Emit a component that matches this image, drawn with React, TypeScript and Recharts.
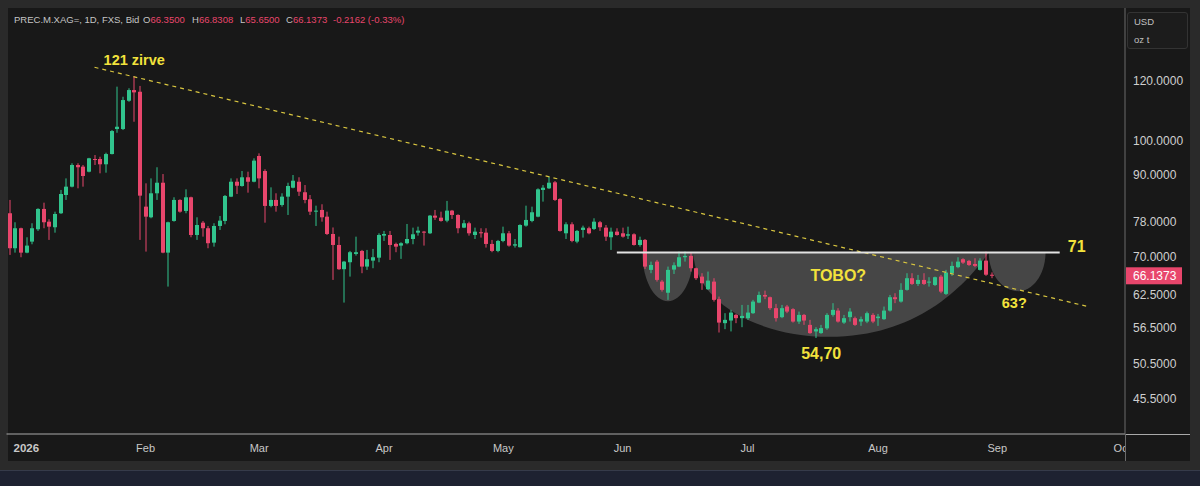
import {
  Bar,
  ComposedChart,
  ReferenceArea,
  ReferenceDot,
  ReferenceLine,
  XAxis,
  YAxis,
} from "recharts";

// Daily silver candles, Dec 29 2025 .. Aug 31 2026 (one slot per trading day).
const opens = [
  80.05, 71.94, 76.47, 70.98, 73.41, 76.23, 81.11, 78.02, 76.7, 80.05,
  84.64, 86.82, 92.76, 92.29, 90.88, 94.47, 94.47, 92.96, 95.91, 103.52,
  103.52, 112.86, 116.6, 116.0, 81.68, 79.07, 85.08, 87.87, 70.98, 78.19,
  83.37, 80.61, 84.05, 74.91, 77.78, 76.47, 73.18, 77.0, 78.19, 84.21,
  88.14, 87.0, 89.34, 88.14, 95.34, 91.07, 81.86, 83.37, 82.1, 84.21,
  86.54, 88.14, 85.35, 83.54, 80.44, 80.86, 79.22, 75.14, 72.66, 67.48,
  68.93, 70.7, 71.35, 68.02, 69.27, 69.9, 74.76, 74.91, 72.89, 72.52,
  73.05, 74.0, 75.44, 75.68, 75.3, 79.47, 78.98, 78.26, 80.69, 79.63,
  76.61, 77.64, 74.91, 75.54, 75.44, 72.89, 71.35, 73.56, 75.3, 72.52,
  72.17, 77.08, 78.19, 79.22, 85.95, 86.38, 87.98, 83.62, 75.3, 77.4,
  73.41, 76.07, 76.47, 76.3, 77.88, 76.61, 74.39, 75.68, 75.3, 74.76,
  75.07, 72.66, 73.79, 67.34, 69.06, 64.97, 62.8, 67.4, 68.02, 69.99,
  70.27, 67.68, 65.97, 63.48, 64.97, 61.58, 57.23, 57.69, 58.69, 58.11,
  58.11, 59.0, 60.94, 62.38, 61.95, 59.91, 58.29, 60.21, 59.73, 57.51,
  58.69, 56.93, 55.8, 55.52, 56.33, 58.69, 59.47, 57.33, 58.29, 58.11,
  57.51, 57.51, 58.69, 58.11, 57.93, 59.47, 61.95, 61.13, 63.35, 65.65,
  64.51, 65.31, 64.77, 64.31, 65.97, 62.58, 66.66, 67.9, 69.57, 69.21,
  68.57, 67.34, 69.27, 66.35,
];
const highs = [
  83.37, 77.88, 76.6, 74.39, 77.64, 81.28, 82.68, 78.6, 80.44, 85.95,
  89.04, 93.25, 93.25, 92.76, 94.8, 95.62, 95.13, 96.3, 103.2, 117.82,
  114.24, 117.25, 121.6, 118.08, 87.71, 89.04, 92.12, 90.23, 78.02, 84.05,
  83.54, 86.12, 84.21, 79.07, 78.19, 77.0, 77.64, 79.39, 84.64, 89.04,
  89.04, 91.07, 90.88, 94.67, 96.12, 91.56, 86.64, 85.08, 85.08, 87.87,
  89.96, 89.34, 87.25, 84.64, 81.93, 82.28, 80.44, 76.65, 74.53, 69.2,
  71.35, 74.53, 71.57, 71.57, 71.79, 75.3, 75.84, 75.84, 73.18, 73.27,
  77.47, 76.61, 76.84, 75.84, 79.63, 80.86, 80.44, 83.12, 80.86, 79.8,
  78.43, 78.02, 76.61, 76.47, 76.47, 73.79, 73.79, 76.84, 75.84, 74.0,
  77.4, 81.93, 81.68, 86.38, 87.25, 89.49, 88.33, 83.8, 77.88, 77.88,
  76.07, 77.08, 76.84, 78.83, 78.19, 77.23, 76.61, 76.47, 76.61, 76.84,
  75.3, 74.53, 74.0, 69.06, 69.42, 65.31, 68.02, 68.9, 71.2, 71.2,
  70.98, 67.8, 66.66, 66.99, 65.65, 62.07, 59.0, 59.6, 58.87, 60.51,
  60.51, 61.45, 63.02, 63.21, 62.07, 60.7, 60.51, 60.51, 59.91, 59.29,
  58.87, 57.81, 56.53, 56.93, 59.0, 60.83, 59.91, 58.69, 59.91, 58.39,
  58.39, 59.29, 59.0, 58.87, 60.21, 62.38, 62.71, 64.65, 66.66, 66.66,
  66.31, 66.66, 65.85, 65.97, 66.31, 67.34, 69.06, 69.99, 69.78, 69.42,
  69.78, 69.78, 71.2, 66.8308,
];
const lows = [
  70.49, 70.98, 69.99, 70.85, 72.82, 75.84, 76.47, 73.79, 75.44, 79.87,
  83.37, 86.64, 86.38, 86.82, 90.7, 92.76, 90.43, 90.6, 95.8, 102.35,
  103.2, 112.51, 105.85, 73.79, 71.2, 78.83, 83.37, 70.85, 63.99, 78.02,
  80.19, 80.05, 74.39, 73.79, 74.53, 71.94, 72.29, 76.07, 77.4, 84.1,
  84.9, 86.82, 85.24, 87.98, 86.38, 77.78, 81.53, 80.44, 81.68, 79.63,
  86.38, 84.39, 82.53, 79.63, 77.0, 78.02, 74.91, 65.31, 67.34, 60.94,
  65.97, 70.34, 66.66, 67.34, 67.68, 68.93, 73.56, 69.42, 71.07, 69.64,
  72.82, 72.82, 74.76, 72.52, 75.14, 78.43, 78.02, 77.88, 78.67, 75.3,
  76.5, 74.76, 74.0, 74.31, 72.08, 71.07, 71.07, 73.27, 72.29, 72.08,
  72.08, 76.84, 77.88, 79.07, 82.94, 86.2, 83.12, 75.68, 74.0, 73.27,
  73.05, 74.31, 75.07, 76.07, 75.84, 73.56, 71.57, 74.76, 74.31, 74.0,
  72.52, 72.29, 67.54, 66.66, 64.97, 63.02, 61.45, 66.5, 67.9, 69.06,
  66.99, 65.31, 63.35, 63.35, 61.13, 55.62, 56.19, 55.8, 57.23, 56.53,
  57.81, 58.87, 60.83, 61.58, 59.6, 57.51, 58.11, 59.0, 57.33, 57.1,
  56.93, 55.4, 54.7, 55.4, 56.08, 58.39, 57.33, 57.1, 57.51, 56.76,
  56.76, 57.23, 57.23, 56.76, 57.81, 59.29, 60.83, 60.94, 63.21, 64.31,
  64.11, 64.31, 63.99, 64.11, 62.71, 62.38, 66.12, 67.68, 68.57, 68.16,
  67.9, 67.2, 66.12, 65.65,
];
const closes = [
  71.94, 76.47, 70.98, 72.52, 76.47, 81.11, 77.88, 76.84, 79.87, 84.9,
  86.82, 92.76, 92.12, 89.69, 94.67, 94.2, 92.96, 95.91, 102.89, 104.25,
  113.1, 116.6, 115.78, 84.47, 79.22, 85.08, 87.87, 70.98, 77.88, 83.37,
  80.44, 84.05, 74.91, 77.23, 76.47, 73.05, 77.0, 78.26, 84.39, 88.14,
  87.07, 89.34, 88.14, 94.0, 89.04, 81.86, 83.37, 81.86, 84.21, 87.0,
  88.41, 85.5, 83.37, 80.44, 80.69, 79.07, 75.14, 72.66, 67.48, 69.06,
  71.07, 71.07, 68.02, 69.57, 69.99, 74.91, 75.14, 72.66, 72.29, 73.05,
  74.0, 75.07, 75.91, 75.44, 79.47, 78.98, 78.19, 80.69, 79.63, 76.47,
  77.64, 75.3, 75.68, 75.3, 72.89, 71.35, 73.56, 75.3, 72.52, 72.82,
  77.23, 78.43, 80.29, 86.12, 86.54, 87.87, 83.37, 75.84, 77.4, 73.56,
  75.84, 76.61, 75.3, 78.02, 76.7, 74.53, 75.68, 74.91, 74.53, 75.07,
  72.66, 73.79, 68.02, 68.36, 65.31, 63.35, 67.34, 68.3, 69.99, 70.27,
  67.68, 65.65, 64.65, 65.17, 61.45, 57.33, 57.81, 59.11, 58.11, 58.51,
  59.11, 61.13, 62.38, 62.07, 59.91, 58.11, 59.91, 59.29, 57.51, 58.69,
  57.69, 55.52, 56.19, 56.37, 58.69, 59.6, 57.51, 58.11, 59.29, 56.93,
  57.93, 59.0, 57.51, 58.39, 59.47, 61.95, 61.58, 63.35, 65.65, 64.51,
  65.31, 64.51, 64.97, 65.85, 63.02, 66.79, 68.16, 69.06, 68.85, 68.36,
  68.16, 69.27, 66.3535, 66.1373,
];

// trading-day slots on the time axis (data + empty space up to early October)
const SLOT_COUNT = 197;
const monthTicks = [3, 24, 44, 66, 87, 108, 130, 153, 174, 196];
const monthLabels = ["2026", "Feb", "Mar", "Apr", "May", "Jun", "Jul", "Aug", "Sep", "Oct"];
const priceTicks = [45.5, 50.5, 56.5, 62.5, 70, 78, 90, 100, 120];
const priceDomain = [40.8, 149.8];

// drawings: trend line, neckline, the three arcs and the notes
const trendLine = [
  { x: 15, y: 125.0 },
  { x: 190, y: 60.2 },
];
const neckline = [
  { x: 107, y: 71 },
  { x: 185, y: 71 },
];
const cups = [
  { x1: 112, x2: 120, bottom: 61.2, mid: 0.5, soft: 0 },
  { x1: 121, x2: 172, bottom: 54.9, mid: 0.46, soft: 0.15 },
  { x1: 173, x2: 182, bottom: 63.1, mid: 0.52, soft: 0 },
];
const notes = [
  { x: 22, y: 127.8, text: "121 zirve", size: 14.5 },
  { x: 146, y: 66.3, text: "TOBO?", size: 16 },
  { x: 143, y: 52.25, text: "54,70", size: 16 },
  { x: 188, y: 72.4, text: "71", size: 16 },
  { x: 177, y: 60.86, text: "63?", size: 14.5 },
];

const UP = "#31c48d";
const DOWN = "#e8466c";
const YELLOW = "#f2e23c";
const FONT = "'Liberation Sans', Arial, sans-serif";

const rows = Array.from({ length: SLOT_COUNT }, (_, i) =>
  i < closes.length
    ? { i, o: opens[i], h: highs[i], l: lows[i], c: closes[i] }
    : { i }
);

const last = closes.length - 1;
const change = closes[last] - closes[last - 1];
const changePct = (change / closes[last - 1]) * 100;

function Candle(props: any) {
  const { x, y, width, height, payload } = props;
  if (payload?.h == null || !Number.isFinite(y) || !Number.isFinite(height)) return null;
  const { o, h, l, c } = payload;
  const color = c >= o ? UP : DOWN;
  const span = Math.log(h) - Math.log(l) || 1;
  const at = (v: number) => y + (height * (Math.log(h) - Math.log(v))) / span;
  const left = Math.round(x + width / 2 - 2);
  const top = at(Math.max(o, c));
  const bottom = at(Math.min(o, c));
  return (
    <g>
      <line x1={left + 2} x2={left + 2} y1={y} y2={y + height} stroke={color} strokeWidth={1} />
      <rect x={left} y={top} width={4} height={Math.max(1, bottom - top)} fill={color} />
    </g>
  );
}

const cupShape = (mid: number, soft: number) => (p: any) => {
  const { x, y, width, height } = p;
  if (![x, y, width, height].every(Number.isFinite)) return <g />;
  const k = 0.55;
  const xb = x + width * mid;
  const x2 = x + width;
  const yb = y + height;
  const wl = xb - x;
  const wr = x2 - xb;
  const d =
    `M${x},${y} C${x},${y + k * height} ${xb - k * wl},${yb} ${xb},${yb} ` +
    `C${xb + k * wr},${yb} ${x2 - soft * wr},${y + (k - soft) * height} ${x2},${y} Z`;
  return <path d={d} fill="rgba(255,255,255,0.2)" />;
};

function MonthTick(props: any) {
  const { x, y, payload } = props;
  const idx = monthTicks.indexOf(payload.value);
  const label = monthLabels[idx] ?? "";
  const clipId = `xclip-${payload.value}`;
  return (
    <g>
      <clipPath id={clipId}>
        <rect x={0} y={0} width={1125} height={486} />
      </clipPath>
      <text
        x={x}
        y={y}
        dy="0.71em"
        textAnchor="middle"
        fill="#c8c8c8"
        fontSize={label === "2026" ? 11.5 : 11}
        fontWeight={label === "2026" ? 700 : 400}
        fontFamily={FONT}
        clipPath={`url(#${clipId})`}
      >
        {label}
      </text>
    </g>
  );
}

function PriceTag(props: any) {
  const vb = props.viewBox;
  if (!vb) return null;
  const x = vb.x + vb.width + 1;
  return (
    <g>
      <rect x={x} y={vb.y - 8.5} width={56} height={17} fill={DOWN} />
      <text x={x + 7} y={vb.y} dominantBaseline="central" fill="#ffffff" fontSize={12} fontFamily={FONT}>
        {closes[last].toFixed(4)}
      </text>
    </g>
  );
}

const headerItems = [
  { left: 143, key: "O", value: opens[last] },
  { left: 192, key: "H", value: highs[last] },
  { left: 240, key: "L", value: lows[last] },
  { left: 286, key: "C", value: closes[last] },
];

export default function App() {
  return (
    <div style={{ position: "relative", width: 1200, height: 486, background: "#2a2a2a", overflow: "hidden" }}>
      <style>{`body{margin:0;background:#2a2a2a}`}</style>
      <div style={{ position: "absolute", left: 8, top: 8, width: 1182, height: 453, background: "#181818" }} />
      <div style={{ position: "absolute", left: 0, top: 470, width: 1200, height: 16, background: "#1e2231", borderTop: "1px solid #363b4a" }} />
      <div style={{ position: "absolute", left: 1125, top: 434, width: 65, height: 1, background: "#a9a9a9" }} />
      <div style={{ position: "absolute", left: 1125, top: 434, width: 1, height: 27, background: "#6a6a6a" }} />

      <div style={{ position: "absolute", left: 0, top: 0 }}>
        <ComposedChart
          width={1200}
          height={486}
          data={rows}
          margin={{ top: 8, right: 10, bottom: 24, left: 6.5 }}
        >
          <XAxis
            dataKey="i"
            ticks={monthTicks}
            interval={0}
            tick={<MonthTick />}
            tickLine={false}
            tickMargin={4}
            axisLine={{ stroke: "#a9a9a9" }}
            height={28}
          />
          <YAxis
            orientation="right"
            scale="log"
            type="number"
            domain={priceDomain}
            allowDataOverflow
            ticks={priceTicks}
            interval={0}
            tickFormatter={(v: number) => v.toFixed(4)}
            tick={{ fill: "#cfcfcf", fontSize: 12, fontFamily: FONT }}
            tickLine={false}
            axisLine={{ stroke: "#6a6a6a" }}
            width={65}
          />
          {cups.map((c) => (
            <ReferenceArea
              key={c.x1}
              x1={c.x1}
              x2={c.x2}
              y1={c.bottom}
              y2={71}
              shape={cupShape(c.mid, c.soft)}
            />
          ))}
          <Bar
            dataKey={(d: any) => (d.h == null ? null : [d.l, d.h])}
            barSize={4}
            shape={<Candle />}
            isAnimationActive={false}
          />
          <ReferenceLine
            segment={trendLine}
            stroke="#d9c640"
            strokeWidth={1.2}
            strokeDasharray="4 4"
          />
          <ReferenceLine segment={neckline} stroke="#e2e2e2" strokeWidth={2} />
          <ReferenceLine y={closes[last]} stroke="none" label={<PriceTag />} />
          {notes.map((n) => (
            <ReferenceDot
              key={n.text}
              x={n.x}
              y={n.y}
              r={0}
              fill="none"
              stroke="none"
              label={{
                value: n.text,
                position: "center",
                fill: YELLOW,
                fontSize: n.size,
                fontWeight: 700,
                fontFamily: FONT,
              }}
            />
          ))}
        </ComposedChart>
      </div>

      <div style={{ position: "absolute", left: 14, top: 14, fontFamily: FONT, fontSize: 9.5, lineHeight: "12px", color: "#c5c5c5", whiteSpace: "nowrap" }}>
        PREC.M.XAG=, 1D, FXS, Bid
      </div>
      {headerItems.map((h) => (
        <div key={h.key} style={{ position: "absolute", left: h.left, top: 14, fontFamily: FONT, fontSize: 9.5, lineHeight: "12px", color: "#c5c5c5", whiteSpace: "nowrap" }}>
          {h.key}
          <span style={{ color: DOWN }}>{h.value.toFixed(4)}</span>
        </div>
      ))}
      <div style={{ position: "absolute", left: 333, top: 14, fontFamily: FONT, fontSize: 9.5, lineHeight: "12px", color: DOWN, whiteSpace: "nowrap" }}>
        {change.toFixed(4)} ({changePct.toFixed(2)}%)
      </div>

      <div style={{ position: "absolute", left: 1127, top: 12, width: 59, height: 35, border: "1px solid #333", borderRadius: 3, background: "#1c1c1c", fontFamily: FONT, fontSize: 9.5, color: "#c0c0c0" }}>
        <div style={{ position: "absolute", left: 6, top: 3 }}>USD</div>
        <div style={{ position: "absolute", left: 6, top: 21 }}>oz t</div>
      </div>
    </div>
  );
}
